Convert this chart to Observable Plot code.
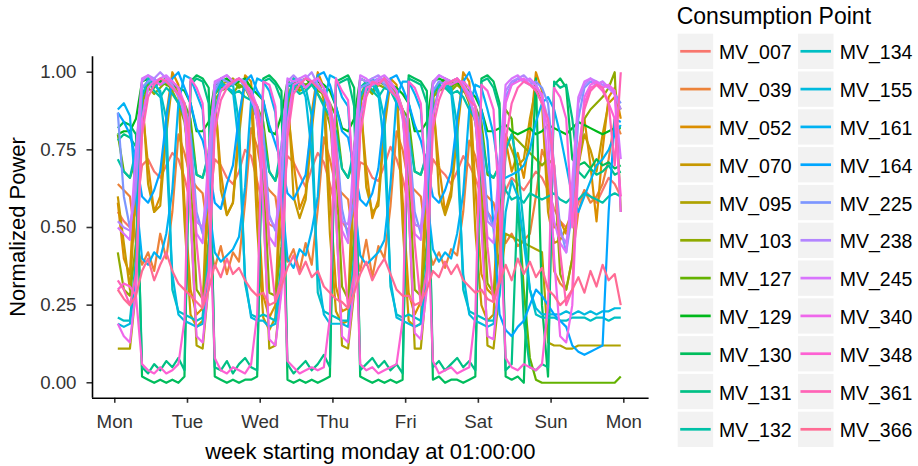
<!DOCTYPE html>
<html><head><meta charset="utf-8">
<script src="https://cdn.jsdelivr.net/npm/d3@7"></script>
<script src="https://cdn.jsdelivr.net/npm/@observablehq/plot@0.6"></script>
<style>
body{margin:0;background:#fff;font-family:"Liberation Sans",Arial,Helvetica,sans-serif;}
#wrap{position:relative;width:918px;height:466px;overflow:hidden;}
#chart{position:absolute;left:0;top:0;}
#legend{position:absolute;left:650px;top:0;}
</style></head>
<body><div id="wrap"><div id="chart"></div><svg id="legend" width="268" height="466"></svg></div>
<script>
// x grid: hours since Monday 00:00, every 2 hours (1,3,...,167)
const hours = d3.range(1, 168, 2);
const tickHours = [0, 24, 48, 72, 96, 120, 144, 168];
const dayLabels = ["Mon", "Tue", "Wed", "Thu", "Fri", "Sat", "Sun", "Mon"];
const yTicks = [0, 0.25, 0.5, 0.75, 1];
const names = ["MV_007","MV_039","MV_052","MV_070","MV_095","MV_103","MV_127","MV_129","MV_130","MV_131","MV_132",
               "MV_134","MV_155","MV_161","MV_164","MV_225","MV_238","MV_245","MV_340","MV_348","MV_361","MV_366"];

// each series: 7 days x 12 two-hourly values (01h,03h,...,23h)
const mv007 = [
 .55,.52,.50,.55,.70,.72,.68,.66,.70,.74,.72,.66,
 .58,.52,.50,.56,.72,.70,.66,.64,.68,.75,.73,.65,
 .57,.51,.50,.57,.73,.71,.67,.63,.69,.74,.71,.64,
 .56,.52,.49,.55,.71,.70,.66,.65,.70,.76,.72,.66,
 .57,.51,.50,.56,.72,.69,.67,.64,.68,.73,.70,.66,
 .60,.55,.52,.55,.62,.66,.64,.62,.65,.68,.66,.62,
 .56,.52,.50,.52,.58,.62,.60,.58,.62,.66,.64,.60];
const mv039 = [
 .64,.62,.60,.45,.38,.42,.36,.48,.40,.55,.80,.74,
 .66,.63,.61,.47,.37,.44,.35,.42,.39,.58,.82,.76,
 .65,.62,.60,.46,.39,.43,.36,.45,.38,.56,.79,.72,
 .63,.61,.59,.44,.36,.46,.34,.44,.40,.57,.81,.75,
 .64,.62,.60,.45,.38,.42,.37,.43,.41,.55,.78,.73,
 .62,.60,.58,.50,.45,.48,.44,.46,.48,.60,.75,.70,
 .36,.32,.30,.40,.55,.62,.58,.60,.64,.72,.85,.80];
const mv052 = [
 .58,.40,.35,.72,.90,.70,.55,.60,.86,1.0,.96,.58,
 .30,.22,.24,.75,.92,.68,.54,.58,.84,.99,.97,.62,
 .28,.21,.25,.74,.89,.71,.56,.61,.87,1.0,.95,.60,
 .31,.23,.24,.76,.91,.69,.53,.59,.85,.98,.96,.59,
 .29,.22,.26,.73,.90,.70,.55,.62,.83,1.0,.97,.63,
 .35,.30,.28,.65,.78,.68,.74,.66,.80,1.0,.94,.60,
 .50,.52,.48,.55,.75,.85,.70,.52,.75,.92,.95,.85];
const mv070 = [
 .60,.45,.30,.62,.94,.64,.55,.57,.80,.97,.93,.52,
 .22,.18,.20,.66,.95,.62,.54,.58,.79,.98,.92,.50,
 .21,.17,.21,.64,.96,.60,.53,.59,.81,.99,.91,.48,
 .23,.19,.20,.67,.94,.63,.55,.57,.82,.97,.93,.51,
 .20,.18,.19,.65,.95,.61,.54,.60,.80,.98,.92,.49,
 .25,.20,.22,.55,.80,.75,.70,.72,.85,.95,.90,.55,
 .45,.46,.50,.55,.70,.80,.75,.68,.80,.90,.92,.88];
const mv095 = [
 .11,.11,.11,.30,.92,.97,.98,.96,.97,.95,.93,.88,
 .55,.12,.11,.32,.93,.96,.97,.98,.96,.95,.92,.86,
 .58,.11,.12,.31,.91,.98,.97,.96,.97,.96,.93,.87,
 .56,.12,.11,.29,.92,.97,.96,.97,.98,.95,.94,.88,
 .57,.11,.11,.33,.93,.96,.98,.97,.96,.94,.92,.85,
 .60,.12,.11,.30,.48,.47,.46,.45,.44,.43,.42,.13,
 .12,.12,.11,.11,.12,.12,.12,.12,.12,.12,.12,.12];
const mv103 = [
 .42,.30,.28,.45,.90,.95,.93,.95,.97,.94,.90,.84,
 .70,.30,.27,.46,.91,.94,.95,.93,.96,.95,.91,.85,
 .68,.29,.28,.44,.89,.96,.94,.95,.97,.93,.90,.83,
 .71,.31,.27,.47,.90,.95,.93,.96,.95,.94,.92,.86,
 .69,.30,.28,.45,.92,.94,.95,.94,.96,.95,.90,.84,
 .70,.32,.29,.42,.75,.80,.78,.76,.74,.72,.70,.72,
 .70,.35,.30,.40,.70,.85,.88,.90,.92,.95,1.0,.55];
const mv127 = [
 .80,.68,.66,.72,.92,.96,.95,.97,.96,.95,.93,.90,
 .85,.67,.66,.73,.93,.95,.96,.97,.95,.96,.92,.89,
 .84,.68,.65,.71,.91,.97,.95,.96,.97,.94,.93,.90,
 .86,.69,.66,.72,.92,.96,.94,.97,.96,.95,.92,.88,
 .85,.68,.67,.73,.93,.95,.96,.95,.97,.94,.93,.89,
 .84,.67,.66,.70,.88,.85,.60,.30,.08,.01,.00,.00,
 .00,.00,.00,.00,.00,.00,.00,.00,.00,.00,.00,.02];
const mv129 = [
 .80,.81,.81,.85,.97,.98,.96,.97,.98,.96,.95,.94,
 .90,.81,.81,.84,.96,.97,.98,.96,.97,.98,.95,.93,
 .91,.81,.80,.86,.97,.96,.97,.98,.96,.97,.96,.94,
 .89,.82,.81,.85,.98,.97,.96,.97,.98,.96,.95,.93,
 .90,.81,.81,.84,.97,.98,.97,.96,.97,.95,.94,.92,
 .88,.81,.81,.82,.83,.81,.80,.81,.82,.80,.81,.83,
 .82,.81,.80,.82,.84,.83,.82,.81,.80,.81,.82,.82];
const mv130 = [
 .82,.84,.83,.80,.02,.01,.00,.01,.00,.01,.00,.02,
 .97,.99,.98,.95,.02,.01,.00,.01,.00,.01,.01,.02,
 .98,.99,.97,.94,.01,.00,.01,.00,.01,.00,.01,.02,
 .97,.98,.99,.95,.02,.01,.00,.01,.00,.01,.00,.01,
 .99,.98,.97,.94,.01,.02,.00,.01,.01,.00,.01,.02,
 .98,.99,.97,.90,.02,.01,.02,.00,.55,.98,.25,.02,
 .96,.98,.95,.72,.70,.71,.69,.72,.70,.71,.69,.70];
const mv131 = [
 .78,.80,.79,.76,.05,.03,.06,.04,.07,.05,.08,.04,
 .96,.98,.97,.90,.05,.04,.07,.03,.06,.08,.05,.04,
 .97,.98,.96,.91,.06,.03,.05,.07,.04,.06,.09,.05,
 .96,.97,.98,.89,.04,.06,.08,.05,.07,.04,.06,.03,
 .98,.97,.96,.90,.05,.07,.04,.06,.08,.05,.07,.04,
 .97,.98,.95,.88,.04,.06,.60,.20,.05,.04,.06,.05,
 .97,.95,.96,.85,.68,.66,.69,.67,.68,.70,.67,.68];
const mv132 = [
 .72,.68,.66,.75,.95,.97,.94,.92,.95,.93,.90,.86,
 .80,.67,.66,.74,.94,.96,.95,.93,.94,.92,.91,.85,
 .79,.68,.65,.76,.96,.95,.93,.94,.96,.93,.89,.86,
 .81,.69,.66,.75,.95,.97,.94,.92,.95,.94,.90,.87,
 .80,.68,.67,.74,.94,.96,.95,.93,.94,.92,.88,.85,
 .80,.68,.66,.70,.62,.59,.60,.58,.61,.60,.59,.60,
 .61,.59,.58,.60,.59,.61,.60,.59,.58,.60,.61,.60];
const mv134 = [
 .21,.20,.20,.40,.92,.98,.96,.94,.85,.30,.23,.22,
 .21,.20,.21,.42,.93,.97,.95,.96,.84,.32,.22,.21,
 .22,.21,.20,.39,.91,.98,.97,.95,.86,.29,.23,.22,
 .21,.20,.20,.41,.92,.96,.98,.94,.85,.31,.22,.21,
 .22,.21,.20,.40,.93,.97,.96,.95,.83,.30,.23,.22,
 .21,.20,.20,.30,.75,.80,.70,.50,.30,.22,.21,.21,
 .21,.20,.20,.21,.21,.21,.20,.21,.21,.20,.21,.21];
const mv155 = [
 .19,.18,.19,.35,.85,.95,.97,.93,.75,.35,.22,.20,
 .19,.18,.19,.36,.86,.96,.95,.94,.76,.34,.21,.20,
 .20,.18,.19,.34,.84,.95,.97,.92,.74,.36,.22,.19,
 .19,.19,.18,.35,.85,.94,.96,.93,.75,.33,.21,.20,
 .19,.18,.19,.36,.86,.95,.96,.94,.73,.35,.22,.20,
 .19,.18,.19,.28,.55,.65,.60,.45,.30,.24,.22,.22,
 .22,.22,.23,.22,.23,.22,.23,.22,.23,.23,.24,.24];
const mv161 = [
 .88,.90,.86,.60,.40,.38,.42,.40,.48,.62,.90,.99,
 .98,.93,.88,.58,.42,.39,.41,.43,.47,.63,.91,.98,
 .97,.94,.87,.61,.40,.37,.43,.41,.49,.60,.89,.99,
 .98,.92,.89,.59,.41,.38,.40,.42,.46,.64,.92,.97,
 .97,.93,.88,.60,.43,.39,.42,.40,.48,.61,.88,.96,
 .95,.88,.80,.66,.66,.67,.68,.70,.75,.84,.90,.92,
 .88,.80,.70,.60,.55,.60,.65,.70,.72,.75,.80,.83];
const mv164 = [
 .87,.84,.80,.72,.60,.58,.62,.68,.85,.98,1.0,.95,
 .90,.82,.78,.70,.58,.56,.64,.70,.86,.97,.99,.94,
 .91,.83,.77,.71,.61,.59,.63,.67,.84,.99,1.0,.96,
 .89,.81,.79,.69,.59,.57,.61,.69,.87,.98,.99,.95,
 .90,.83,.78,.70,.60,.58,.62,.68,.85,.97,1.0,.94,
 .88,.78,.50,.22,.17,.15,.18,.20,.25,.30,.28,.25,
 .22,.20,.18,.12,.10,.09,.10,.11,.12,.55,.85,.84];
const mv225 = [
 .87,.60,.50,.62,.95,.97,.98,.96,.97,.95,.93,.90,
 .80,.55,.48,.60,.94,.98,.97,.96,.98,.95,.92,.89,
 .81,.54,.49,.61,.96,.97,.98,.95,.97,.96,.93,.90,
 .79,.56,.47,.59,.95,.96,.97,.98,.96,.94,.92,.88,
 .80,.55,.48,.62,.94,.97,.96,.97,.98,.95,.93,.89,
 .80,.55,.50,.60,.92,.96,.98,.97,.96,.97,.95,.90,
 .70,.50,.42,.55,.85,.95,.97,.96,.97,.95,.93,.90];
const mv238 = [
 .52,.50,.49,.65,.97,.99,.98,1.0,.98,.96,.92,.88,
 .75,.52,.50,.66,.96,.98,.99,.97,.98,.97,.91,.87,
 .74,.53,.50,.64,.97,.99,.97,.98,1.0,.96,.93,.88,
 .76,.52,.51,.65,.98,.97,.98,.99,.97,.95,.92,.87,
 .75,.51,.50,.67,.96,.99,.98,.97,.98,.96,.91,.86,
 .74,.52,.50,.62,.94,.97,.98,.99,.97,.96,.92,.85,
 .65,.48,.45,.58,.90,.96,.98,.97,.96,.95,.93,.88];
const mv245 = [
 .50,.48,.46,.75,.98,.99,.97,.98,.99,.97,.95,.85,
 .70,.48,.45,.74,.97,.98,.99,.97,.98,.96,.94,.84,
 .69,.47,.44,.76,.98,.97,.98,.99,.97,.98,.95,.86,
 .71,.49,.45,.75,.99,.98,.96,.98,.99,.97,.94,.85,
 .70,.48,.46,.73,.97,.99,.98,.97,.98,.96,.93,.84,
 .68,.47,.45,.72,.96,.98,.99,.97,.98,.96,.92,.70,
 .52,.45,.42,.65,.92,.97,.98,.96,.97,.95,.93,.72];
const mv340 = [
 .19,.15,.13,.30,.85,.95,.97,.96,.98,.97,.95,.90,
 .55,.15,.13,.32,.86,.94,.96,.97,.98,.96,.94,.89,
 .56,.14,.12,.29,.84,.96,.97,.95,.97,.98,.95,.90,
 .54,.15,.13,.31,.85,.95,.96,.97,.98,.96,.94,.88,
 .55,.16,.14,.30,.86,.94,.97,.96,.97,.97,.95,.89,
 .50,.15,.14,.35,.90,.96,.97,.98,.96,.95,.93,.80,
 .40,.15,.13,.25,.70,.92,.96,.97,.95,.96,.94,.55];
const mv348 = [
 .30,.32,.31,.28,.06,.04,.03,.05,.03,.04,.06,.20,
 .98,.95,.90,.60,.08,.04,.03,.05,.04,.03,.06,.22,
 .97,.96,.89,.58,.07,.05,.03,.04,.05,.04,.05,.21,
 .98,.94,.91,.62,.06,.04,.05,.03,.04,.05,.06,.20,
 .97,.95,.90,.59,.07,.03,.04,.05,.03,.04,.05,.22,
 .96,.94,.88,.55,.08,.05,.04,.06,.05,.04,.06,.25,
 .95,.92,.85,.50,.70,.90,.95,.96,.94,.90,.85,.60];
const mv361 = [
 .33,.30,.25,.35,.80,.92,.96,.98,.97,.95,.93,.90,
 .75,.45,.25,.36,.81,.91,.95,.97,.98,.96,.92,.89,
 .74,.44,.26,.34,.79,.93,.96,.98,.97,.95,.93,.90,
 .76,.46,.24,.35,.80,.92,.97,.96,.98,.94,.92,.88,
 .75,.45,.25,.36,.82,.91,.96,.97,.98,.95,.91,.89,
 .73,.44,.26,.33,.78,.90,.95,.97,.96,.94,.90,.85,
 .70,.42,.25,.30,.75,.88,.94,.96,.95,.90,.70,1.0];
const mv366 = [
 .30,.27,.25,.28,.36,.40,.33,.38,.42,.36,.32,.30,
 .28,.26,.24,.30,.38,.34,.40,.35,.37,.33,.30,.28,
 .29,.25,.26,.31,.37,.41,.35,.39,.34,.36,.31,.29,
 .27,.26,.24,.29,.35,.39,.33,.37,.40,.35,.30,.28,
 .28,.25,.26,.30,.36,.34,.39,.35,.38,.33,.31,.29,
 .30,.27,.26,.32,.38,.33,.40,.35,.39,.34,.37,.30,
 .28,.25,.27,.30,.34,.29,.36,.31,.38,.33,.35,.25];

const seriesValues = [mv007,mv039,mv052,mv070,mv095,mv103,mv127,mv129,mv130,mv131,mv132,
                      mv134,mv155,mv161,mv164,mv225,mv238,mv245,mv340,mv348,mv361,mv366];

// ggplot2 default hue palette (polar LUV, c=100, l=65)
function hcl(h, c, l) {
  const hr = h * Math.PI / 180, U = c * Math.cos(hr), V = c * Math.sin(hr);
  const WY = 100, Wu = 0.1978398, Wv = 0.4683363;
  const Y = WY * (l > 7.999592 ? Math.pow((l + 16) / 116, 3) : l / 903.3);
  const u = U / (13 * l) + Wu, v = V / (13 * l) + Wv;
  const X = 9 * Y * u / (4 * v), Z = -X / 3 - 5 * Y + 3 * Y / v;
  const g = t => { t = t / WY; return t > 0.00304 ? 1.055 * Math.pow(t, 1 / 2.4) - 0.055 : 12.92 * t; };
  const cl = t => Math.max(0, Math.min(255, Math.round(255 * g(t))));
  const r = cl(3.240479 * X - 1.537150 * Y - 0.498535 * Z);
  const gg = cl(-0.969256 * X + 1.875992 * Y + 0.041556 * Z);
  const b = cl(0.055648 * X - 0.204043 * Y + 1.057311 * Z);
  return d3.rgb(r, gg, b).formatHex();
}
const colors = names.map((_, i) => hcl(15 + i * 360 / names.length, 100, 65));

const rows = [];
names.forEach((s, i) => seriesValues[i].forEach((v, j) => rows.push({s, t: hours[j], v})));

const X0 = -7.35, X1 = 176.35, Y0 = -0.05, Y1 = 1.05;
const chart = Plot.plot({
  width: 650, height: 466,
  marginLeft: 92, marginRight: 1.4, marginTop: 56.2, marginBottom: 68.2,
  style: {fontFamily: "'Liberation Sans', Arial, Helvetica, sans-serif", fontSize: "18.7px", background: "#fff", color: "#000", overflow: "visible"},
  x: {domain: [X0, X1]},
  y: {domain: [Y0, Y1]},
  color: {domain: names, range: colors},
  marks: [
    Plot.line(rows, {x: "t", y: "v", z: "s", stroke: "s", strokeWidth: 2.2, strokeLinejoin: "round", strokeLinecap: "butt"}),
    Plot.axisX({ticks: tickHours, tickFormat: (d) => dayLabels[tickHours.indexOf(d)], tickSize: 5, tickPadding: 11.5, label: null, color: "#333", strokeWidth: 1.6}),
    Plot.axisY({ticks: yTicks, tickFormat: d3.format(".2f"), tickSize: 5.5, tickPadding: 10.5, label: null, color: "#333", strokeWidth: 1.6}),
    Plot.ruleX([X0], {y1: Y0, y2: Y1, stroke: "#000", strokeWidth: 1.6}),
    Plot.ruleY([Y0], {x1: X0, x2: X1, stroke: "#000", strokeWidth: 1.6})
  ]
});
document.getElementById("chart").appendChild(chart);

// axis titles
const svg = d3.select(chart);
svg.append("text").attr("x", 370.3).attr("y", 459).attr("text-anchor", "middle")
  .attr("font-size", 22).attr("fill", "#000").text("week starting monday at 01:00:00");
svg.append("text").attr("transform", "translate(25,227) rotate(-90)").attr("text-anchor", "middle")
  .attr("font-size", 22).attr("fill", "#000").text("Normalized Power");

// legend
const lg = d3.select("#legend").style("font-family", "'Liberation Sans', Arial, Helvetica, sans-serif");
lg.append("text").attr("x", 26.7).attr("y", 24.3).attr("font-size", 23).attr("fill", "#000").text("Consumption Point");
names.forEach((n, i) => {
  const col = i < 11 ? 0 : 1, row = i % 11;
  const kx = col ? 148 : 27.7, cy = 51.3 + row * 37.8;
  lg.append("rect").attr("x", kx).attr("y", cy - 17.6).attr("width", 35.5).attr("height", 35.3).attr("fill", "#F2F2F2");
  lg.append("line").attr("x1", kx + 2.5).attr("x2", kx + 33).attr("y1", cy).attr("y2", cy)
    .attr("stroke", colors[i]).attr("stroke-width", 2.7);
  lg.append("text").attr("x", col ? 189.7 : 69).attr("y", cy + 8).attr("font-size", 19.5).attr("fill", "#000").text(n);
});
</script></body></html>
